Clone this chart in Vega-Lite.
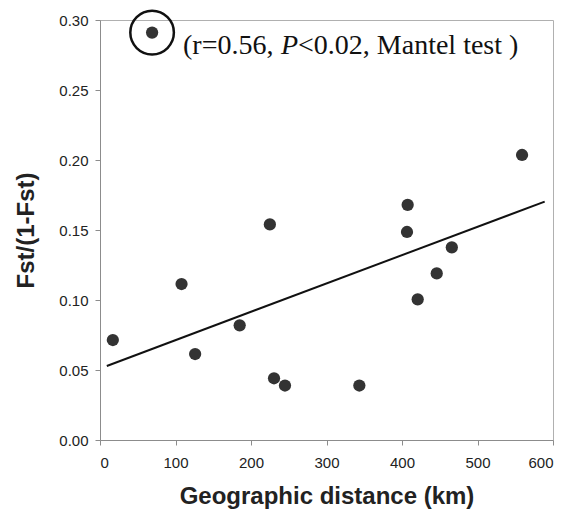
{
  "$schema": "https://vega.github.io/schema/vega-lite/v6.json",
  "width": 453,
  "height": 420,
  "autosize": {"type": "none"},
  "padding": {"left": 100, "top": 20, "right": 19, "bottom": 69},
  "background": "white",
  "config": {
    "view": {"stroke": "#b0b0b0", "strokeWidth": 1},
    "axis": {
      "grid": false,
      "domainColor": "#8c8c8c",
      "tickColor": "#8c8c8c",
      "tickSize": 5,
      "labelFont": "Liberation Sans",
      "labelFontSize": 15,
      "labelColor": "#222222",
      "titleFont": "Liberation Sans",
      "titleFontSize": 24,
      "titleFontWeight": "bold",
      "titleColor": "#222222"
    }
  },
  "datasets": {
    "pts": [
      {"dist": 69, "fst": 0.291},
      {"dist": 17, "fst": 0.0714},
      {"dist": 108, "fst": 0.1114},
      {"dist": 126, "fst": 0.0614},
      {"dist": 185, "fst": 0.0819},
      {"dist": 225, "fst": 0.154},
      {"dist": 230.5, "fst": 0.0441},
      {"dist": 245, "fst": 0.0389},
      {"dist": 343.5, "fst": 0.0389},
      {"dist": 406.6, "fst": 0.1486},
      {"dist": 407.5, "fst": 0.168},
      {"dist": 420.8, "fst": 0.1005},
      {"dist": 446, "fst": 0.119},
      {"dist": 466, "fst": 0.1376},
      {"dist": 559, "fst": 0.2036}
    ],
    "fit": [
      {"dist": 9, "fst": 0.0529},
      {"dist": 589, "fst": 0.1703}
    ],
    "hl": [{"dist": 69, "fst": 0.291}],
    "lab1": [{"dist": 110, "fst": 0.2755, "t": "(r=0.56,"}],
    "lab2": [{"dist": 239.7, "fst": 0.2755, "t": "P"}],
    "lab3": [{"dist": 262.3, "fst": 0.2755, "t": "<0.02, Mantel test )"}]
  },
  "layer": [
    {
      "data": {"name": "fit"},
      "mark": {"type": "line", "color": "#111111", "strokeWidth": 2},
      "encoding": {
        "x": {"field": "dist", "type": "quantitative", "scale": {"domain": [0, 600], "nice": false},
              "axis": {"values": [0, 100, 200, 300, 400, 500, 600], "title": "Geographic distance (km)", "titlePadding": 14, "labelPadding": 10}},
        "y": {"field": "fst", "type": "quantitative", "scale": {"domain": [0, 0.3], "nice": false},
              "axis": {"values": [0, 0.05, 0.1, 0.15, 0.2, 0.25, 0.3], "format": ".2f", "title": "Fst/(1-Fst)", "titlePadding": 20, "labelPadding": 7}}
      }
    },
    {
      "data": {"name": "pts"},
      "mark": {"type": "point", "shape": "circle", "filled": true, "size": 150, "color": "#333333", "opacity": 1},
      "encoding": {
        "x": {"field": "dist", "type": "quantitative"},
        "y": {"field": "fst", "type": "quantitative"}
      }
    },
    {
      "data": {"name": "hl"},
      "mark": {"type": "point", "shape": "circle", "filled": false, "size": 1900, "color": "#111111", "strokeWidth": 2.5, "opacity": 1},
      "encoding": {
        "x": {"field": "dist", "type": "quantitative"},
        "y": {"field": "fst", "type": "quantitative"}
      }
    },
    {
      "data": {"name": "lab1"},
      "mark": {"type": "text", "align": "left", "baseline": "alphabetic", "font": "Liberation Serif", "fontSize": 28, "color": "#111111"},
      "encoding": {
        "x": {"field": "dist", "type": "quantitative"},
        "y": {"field": "fst", "type": "quantitative"},
        "text": {"field": "t"}
      }
    },
    {
      "data": {"name": "lab2"},
      "mark": {"type": "text", "align": "left", "baseline": "alphabetic", "font": "Liberation Serif", "fontSize": 28, "fontStyle": "italic", "color": "#111111"},
      "encoding": {
        "x": {"field": "dist", "type": "quantitative"},
        "y": {"field": "fst", "type": "quantitative"},
        "text": {"field": "t"}
      }
    },
    {
      "data": {"name": "lab3"},
      "mark": {"type": "text", "align": "left", "baseline": "alphabetic", "font": "Liberation Serif", "fontSize": 28, "color": "#111111"},
      "encoding": {
        "x": {"field": "dist", "type": "quantitative"},
        "y": {"field": "fst", "type": "quantitative"},
        "text": {"field": "t"}
      }
    }
  ]
}
